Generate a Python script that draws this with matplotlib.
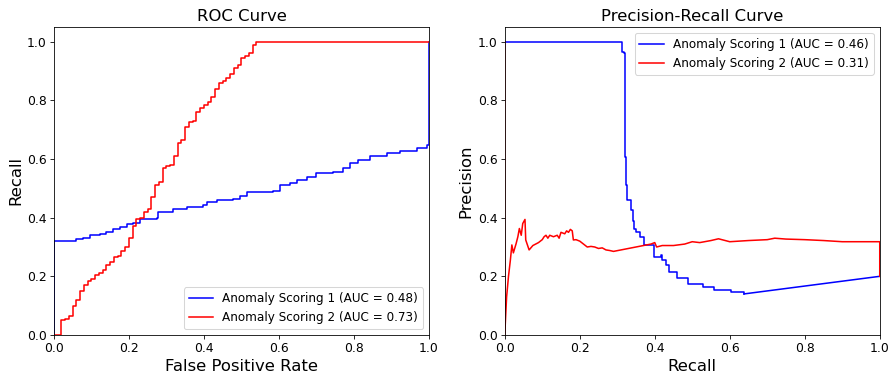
import numpy as np
import matplotlib
matplotlib.use("Agg")
import matplotlib.pyplot as plt

# ROC curve, scoring 1 (blue)
fpr1 = [0.0, 0.0, 0.052, 0.06, 0.078, 0.096, 0.123, 0.14, 0.158, 0.176, 0.194, 0.212, 0.229,
        0.274, 0.278, 0.318, 0.354, 0.398, 0.407, 0.434, 0.478, 0.496, 0.514, 0.585, 0.603,
        0.629, 0.647, 0.674, 0.70, 0.745, 0.772, 0.789, 0.812, 0.843, 0.887, 0.923, 0.967,
        0.994, 1.0, 1.0]
tpr1 = [0.0, 0.321, 0.321, 0.327, 0.331, 0.34, 0.346, 0.352, 0.36, 0.369, 0.378, 0.383, 0.397,
        0.40, 0.42, 0.428, 0.435, 0.443, 0.454, 0.46, 0.465, 0.473, 0.488, 0.49, 0.51,
        0.519, 0.528, 0.539, 0.553, 0.556, 0.568, 0.585, 0.598, 0.611, 0.619, 0.628, 0.636,
        0.647, 0.658, 1.0]

# ROC curve, scoring 2 (red)
fpr2 = [0.0, 0.01, 0.02, 0.03, 0.04, 0.05, 0.06, 0.07, 0.08, 0.09, 0.1, 0.11, 0.12, 0.13, 0.14,
        0.15, 0.16, 0.17, 0.18, 0.19, 0.2, 0.21, 0.22, 0.23, 0.24, 0.25, 0.26, 0.27, 0.28, 0.29,
        0.3, 0.31, 0.32, 0.33, 0.34, 0.35, 0.36, 0.37, 0.38, 0.39, 0.40, 0.41, 0.42, 0.43, 0.44,
        0.45, 0.46, 0.47, 0.48, 0.49, 0.5, 0.51, 0.52, 0.53, 0.54, 1.0]
tpr2 = [0.0, 0.0, 0.05, 0.055, 0.065, 0.1, 0.12, 0.15, 0.17, 0.185, 0.19, 0.205, 0.21, 0.22, 0.24,
        0.25, 0.265, 0.27, 0.285, 0.3, 0.33, 0.37, 0.395, 0.4, 0.42, 0.43, 0.47, 0.51, 0.52, 0.57,
        0.575, 0.58, 0.61, 0.655, 0.665, 0.71, 0.725, 0.73, 0.76, 0.775, 0.785, 0.795, 0.81, 0.84, 0.86,
        0.865, 0.875, 0.89, 0.91, 0.92, 0.945, 0.95, 0.96, 0.99, 1.0, 1.0]

# PR curve, scoring 1 (blue): staircase part, then the straight tail to recall 1
rec1 = [0.0, 0.314, 0.317, 0.320, 0.323, 0.326, 0.33, 0.338, 0.342, 0.345, 0.35, 0.362, 0.372,
        0.38, 0.398, 0.416, 0.42, 0.429, 0.438, 0.46, 0.49, 0.53, 0.558, 0.603, 0.638]
prec1 = [1.0, 0.965, 0.96, 0.607, 0.51, 0.46, 0.46, 0.425, 0.39, 0.36, 0.352, 0.335, 0.306,
         0.306, 0.267, 0.272, 0.255, 0.238, 0.216, 0.193, 0.174, 0.165, 0.153, 0.148, 0.14]
rec1_tail = [0.638, 1.0]
prec1_tail = [0.14, 0.2]

# PR curve, scoring 2 (red)
rec2 = [0.0, 0.0, 0.005, 0.01, 0.015, 0.019, 0.023, 0.03, 0.035, 0.039, 0.044, 0.048, 0.054,
        0.056, 0.065, 0.075, 0.09, 0.1, 0.105, 0.11, 0.115, 0.12, 0.13, 0.14, 0.145, 0.15, 0.16,
        0.165, 0.17, 0.175, 0.18, 0.183, 0.19, 0.2, 0.21, 0.22, 0.23, 0.24, 0.25, 0.26, 0.27,
        0.28, 0.29, 0.31, 0.33, 0.35, 0.37, 0.39, 0.40, 0.405, 0.42, 0.45, 0.48, 0.5, 0.52,
        0.55, 0.57, 0.6, 0.65, 0.7, 0.72, 0.75, 0.8, 0.85, 0.9, 0.95, 1.0, 1.0]
prec2 = [1.0, 0.0, 0.13, 0.2, 0.255, 0.307, 0.28, 0.31, 0.335, 0.363, 0.34, 0.38, 0.394,
         0.324, 0.29, 0.305, 0.315, 0.325, 0.335, 0.34, 0.33, 0.34, 0.335, 0.34, 0.33, 0.35, 0.345,
         0.355, 0.35, 0.36, 0.355, 0.324, 0.325, 0.32, 0.31, 0.3, 0.302, 0.3, 0.295, 0.297, 0.29,
         0.288, 0.285, 0.29, 0.295, 0.3, 0.305, 0.31, 0.315, 0.3, 0.305, 0.305, 0.31, 0.318, 0.315,
         0.322, 0.328, 0.318, 0.322, 0.325, 0.33, 0.327, 0.325, 0.322, 0.318, 0.318, 0.318, 0.2]

fig = plt.figure(figsize=(12, 374 / 74), dpi=74)
ax1 = fig.add_axes([0.0608, 0.1043, 0.4223, 0.8235])
ax2 = fig.add_axes([0.5684, 0.1043, 0.4223, 0.8235])

ax1.plot(fpr1, tpr1, color="blue", drawstyle="steps-post", label="Anomaly Scoring 1 (AUC = 0.48)")
ax1.plot(fpr2, tpr2, color="red", drawstyle="steps-post", label="Anomaly Scoring 2 (AUC = 0.73)")
ax1.set_xlim([0.0, 1.0])
ax1.set_ylim([0.0, 1.05])
ax1.set_xlabel("False Positive Rate", fontsize=16)
ax1.set_ylabel("Recall", fontsize=16)
ax1.set_title("ROC Curve", fontsize=16)
ax1.tick_params(labelsize=12)
ax1.legend(loc="lower right", fontsize=11.7)

ax2.plot(rec1, prec1, color="blue", drawstyle="steps-post", label="Anomaly Scoring 1 (AUC = 0.46)")
ax2.plot(rec1_tail, prec1_tail, color="blue")
ax2.plot(rec2, prec2, color="red", label="Anomaly Scoring 2 (AUC = 0.31)")
ax2.set_xlim([0.0, 1.0])
ax2.set_ylim([0.0, 1.05])
ax2.set_xlabel("Recall", fontsize=16)
ax2.set_ylabel("Precision", fontsize=16)
ax2.set_title("Precision-Recall Curve", fontsize=16)
ax2.tick_params(labelsize=12)
ax2.legend(loc="upper right", fontsize=11.7)

fig.savefig("out.png", dpi=74)
